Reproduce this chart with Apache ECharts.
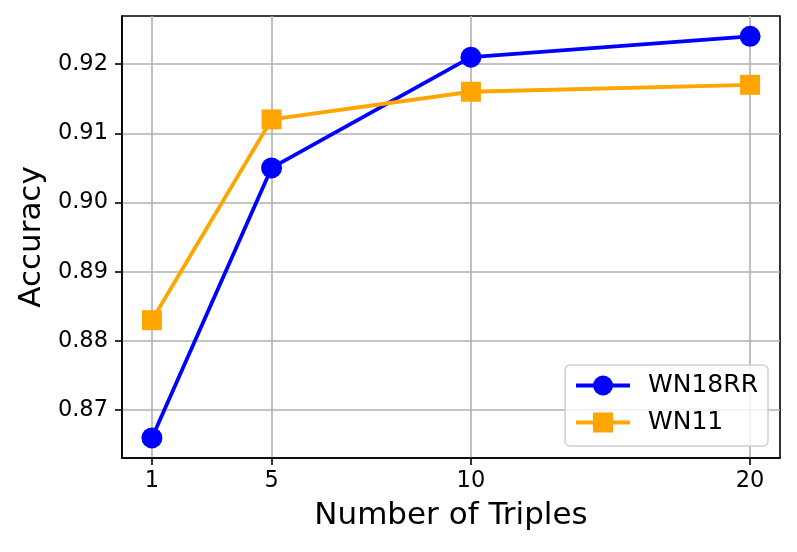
<!DOCTYPE html>
<html>
<head>
<meta charset="utf-8">
<script src="https://cdn.jsdelivr.net/npm/echarts@6/dist/echarts.min.js"></script>
<style>html,body{margin:0;padding:0;background:#fff;}#c{width:797px;height:552px;}</style>
</head>
<body>
<div id="c"></div>
<script>
// x tick labels and their plot positions on the (non-uniform) x axis
const tickLabels = ['1', '5', '10', '20'];
const xPositions = [1, 4, 9, 16];
const yTicks = [0.87, 0.88, 0.89, 0.90, 0.91, 0.92];
const wn18rr = [0.866, 0.905, 0.921, 0.924];
const wn11 = [0.883, 0.912, 0.916, 0.917];

const font = 'DejaVu Sans';
const chart = echarts.init(document.getElementById('c'), null, {renderer: 'canvas'});
const pair = (vals) => vals.map((v, i) => [xPositions[i], v]);

chart.setOption({
  animation: false,
  backgroundColor: '#ffffff',
  grid: {left: 122, right: 17, top: 16, bottom: 94, show: true, borderColor: '#000', borderWidth: 1.6, backgroundColor: 'transparent'},
  xAxis: {
    type: 'value', min: 0.25, max: 16.75,
    name: 'Number of Triples', nameLocation: 'middle', nameGap: 42,
    nameTextStyle: {fontFamily: font, fontSize: 31, color: '#000'},
    axisLine: {show: true, onZero: false, lineStyle: {color: '#000', width: 1.6}},
    axisTick: {show: true, inside: false, length: 7, lineStyle: {color: '#000', width: 1.6}, customValues: xPositions},
    axisLabel: {show: true, margin: 12, fontFamily: font, fontSize: 22.5, color: '#000', customValues: xPositions,
      formatter: (v) => { const i = xPositions.indexOf(v); return i >= 0 ? tickLabels[i] : ''; }},
    splitLine: {show: true, lineStyle: {color: '#b0b0b0', width: 1.6}}
  },
  yAxis: {
    type: 'value', min: 0.8631, max: 0.92694,
    name: 'Accuracy', nameLocation: 'middle', nameGap: 74,
    nameTextStyle: {fontFamily: font, fontSize: 31, color: '#000'},
    axisLine: {show: true, onZero: false, lineStyle: {color: '#000', width: 1.6}},
    axisTick: {show: true, inside: false, length: 7, lineStyle: {color: '#000', width: 1.6}, customValues: yTicks},
    axisLabel: {show: true, margin: 14, fontFamily: font, fontSize: 22.5, color: '#000', customValues: yTicks,
      formatter: (v) => v.toFixed(2)},
    splitLine: {show: true, lineStyle: {color: '#b0b0b0', width: 1.6}}
  },
  legend: {
    orient: 'vertical', right: 29, bottom: 106,
    padding: [8, 10, 11, 9],
    itemWidth: 54, itemHeight: 25, itemGap: 12,
    backgroundColor: 'rgba(255,255,255,0.8)', borderColor: '#d0d0d0', borderWidth: 1.5, borderRadius: 5,
    lineStyle: {width: 3.8},
    textStyle: {fontFamily: font, fontSize: 25, lineHeight: 25, color: '#000', padding: [0, 0, 0, 13]},
    data: ['WN18RR', 'WN11']
  },
  series: [
    {name: 'WN18RR', type: 'line', data: pair(wn18rr), symbol: 'circle', symbolSize: 21,
      itemStyle: {color: '#0000ff'}, lineStyle: {color: '#0000ff', width: 3.8}, z: 3},
    {name: 'WN11', type: 'line', data: pair(wn11), symbol: 'rect', symbolSize: 20,
      itemStyle: {color: '#ffa500'}, lineStyle: {color: '#ffa500', width: 3.8}, z: 4}
  ]
});
</script>
</body>
</html>
